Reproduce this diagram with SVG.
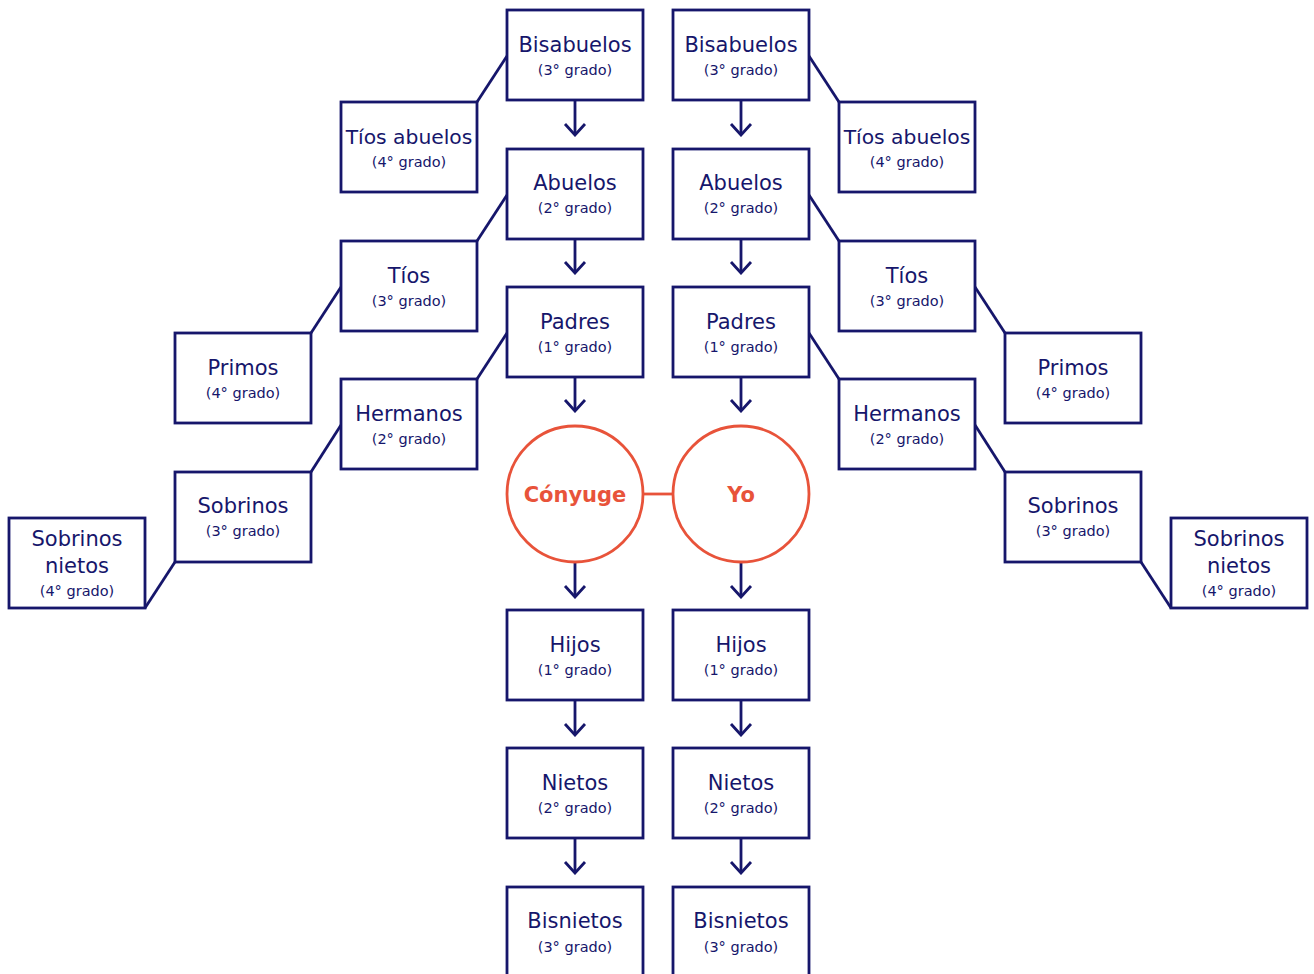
<svg xmlns="http://www.w3.org/2000/svg" width="1314" height="974" viewBox="0 0 1314 974">
<style>
.box{fill:#fff;stroke:#16166b;stroke-width:2.8}
.t{font-family:"DejaVu Sans",sans-serif;font-size:21px;fill:#16166b;text-anchor:middle}
.t2{font-size:20.3px}
.s{font-family:"DejaVu Sans",sans-serif;font-size:14.5px;fill:#16166b;text-anchor:middle}
.c{fill:#fff;stroke:#e8533a;stroke-width:2.8}
.ct{font-family:"DejaVu Sans",sans-serif;font-size:21px;font-weight:bold;fill:#e8533a;text-anchor:middle}
.ln{fill:none;stroke:#16166b;stroke-width:2.8}
.ar{fill:none;stroke:#16166b;stroke-width:2.8;marker-end:url(#chev)}
</style>
<defs>
<marker id="chev" viewBox="0 0 14 24" refX="12.5" refY="12" markerWidth="14" markerHeight="24" markerUnits="userSpaceOnUse" orient="auto">
<path d="M1.5,2 L12.5,12 L1.5,22" fill="none" stroke="#16166b" stroke-width="2.8"/>
</marker>
</defs>
<rect width="1314" height="974" fill="#fff"/>
<g id="connectors">
<line class="ln" x1="507" y1="56" x2="477" y2="102"/>
<line class="ln" x1="507" y1="195" x2="477" y2="241"/>
<line class="ln" x1="507" y1="333" x2="477" y2="379"/>
<line class="ln" x1="341" y1="287" x2="311" y2="333"/>
<line class="ln" x1="341" y1="425" x2="311" y2="472"/>
<line class="ln" x1="175" y1="562" x2="145" y2="608"/>
<line class="ln" x1="809" y1="56" x2="839" y2="102"/>
<line class="ln" x1="809" y1="195" x2="839" y2="241"/>
<line class="ln" x1="809" y1="333" x2="839" y2="379"/>
<line class="ln" x1="975" y1="287" x2="1005" y2="333"/>
<line class="ln" x1="975" y1="425" x2="1005" y2="472"/>
<line class="ln" x1="1141" y1="562" x2="1171" y2="608"/>
<line x1="643" y1="494" x2="673" y2="494" stroke="#e8533a" stroke-width="2.8"/>
<path class="ar" d="M575,100 V135"/><path class="ar" d="M741,100 V135"/>
<path class="ar" d="M575,239 V273"/><path class="ar" d="M741,239 V273"/>
<path class="ar" d="M575,377 V411"/><path class="ar" d="M741,377 V411"/>
<path class="ar" d="M575,562 V597"/><path class="ar" d="M741,562 V597"/>
<path class="ar" d="M575,700 V735"/><path class="ar" d="M741,700 V735"/>
<path class="ar" d="M575,838 V873"/><path class="ar" d="M741,838 V873"/>
</g>
<g id="bisabuelos-l"><rect class="box" x="507" y="10" width="136" height="90"/><text class="t" x="575" y="52">Bisabuelos</text><text class="s" x="575" y="75">(3° grado)</text></g>
<g id="bisabuelos-r"><rect class="box" x="673" y="10" width="136" height="90"/><text class="t" x="741" y="52">Bisabuelos</text><text class="s" x="741" y="75">(3° grado)</text></g>
<g id="abuelos-l"><rect class="box" x="507" y="149" width="136" height="90"/><text class="t" x="575" y="190">Abuelos</text><text class="s" x="575" y="213">(2° grado)</text></g>
<g id="abuelos-r"><rect class="box" x="673" y="149" width="136" height="90"/><text class="t" x="741" y="190">Abuelos</text><text class="s" x="741" y="213">(2° grado)</text></g>
<g id="padres-l"><rect class="box" x="507" y="287" width="136" height="90"/><text class="t" x="575" y="329">Padres</text><text class="s" x="575" y="352">(1° grado)</text></g>
<g id="padres-r"><rect class="box" x="673" y="287" width="136" height="90"/><text class="t" x="741" y="329">Padres</text><text class="s" x="741" y="352">(1° grado)</text></g>
<g id="conyuge"><circle class="c" cx="575" cy="494" r="68"/><text class="ct" x="575" y="502">Cónyuge</text></g>
<g id="yo"><circle class="c" cx="741" cy="494" r="68"/><text class="ct" x="741" y="502">Yo</text></g>
<g id="hijos-l"><rect class="box" x="507" y="610" width="136" height="90"/><text class="t" x="575" y="652">Hijos</text><text class="s" x="575" y="675">(1° grado)</text></g>
<g id="hijos-r"><rect class="box" x="673" y="610" width="136" height="90"/><text class="t" x="741" y="652">Hijos</text><text class="s" x="741" y="675">(1° grado)</text></g>
<g id="nietos-l"><rect class="box" x="507" y="748" width="136" height="90"/><text class="t" x="575" y="790">Nietos</text><text class="s" x="575" y="813">(2° grado)</text></g>
<g id="nietos-r"><rect class="box" x="673" y="748" width="136" height="90"/><text class="t" x="741" y="790">Nietos</text><text class="s" x="741" y="813">(2° grado)</text></g>
<g id="bisnietos-l"><rect class="box" x="507" y="887" width="136" height="100"/><text class="t" x="575" y="928">Bisnietos</text><text class="s" x="575" y="952">(3° grado)</text></g>
<g id="bisnietos-r"><rect class="box" x="673" y="887" width="136" height="100"/><text class="t" x="741" y="928">Bisnietos</text><text class="s" x="741" y="952">(3° grado)</text></g>
<g id="tiosabuelos-l"><rect class="box" x="341" y="102" width="136" height="90"/><text class="t t2" x="409" y="144">Tíos abuelos</text><text class="s" x="409" y="167">(4° grado)</text></g>
<g id="tiosabuelos-r"><rect class="box" x="839" y="102" width="136" height="90"/><text class="t t2" x="907" y="144">Tíos abuelos</text><text class="s" x="907" y="167">(4° grado)</text></g>
<g id="tios-l"><rect class="box" x="341" y="241" width="136" height="90"/><text class="t" x="409" y="283">Tíos</text><text class="s" x="409" y="306">(3° grado)</text></g>
<g id="tios-r"><rect class="box" x="839" y="241" width="136" height="90"/><text class="t" x="907" y="283">Tíos</text><text class="s" x="907" y="306">(3° grado)</text></g>
<g id="hermanos-l"><rect class="box" x="341" y="379" width="136" height="90"/><text class="t" x="409" y="421">Hermanos</text><text class="s" x="409" y="444">(2° grado)</text></g>
<g id="hermanos-r"><rect class="box" x="839" y="379" width="136" height="90"/><text class="t" x="907" y="421">Hermanos</text><text class="s" x="907" y="444">(2° grado)</text></g>
<g id="primos-l"><rect class="box" x="175" y="333" width="136" height="90"/><text class="t" x="243" y="375">Primos</text><text class="s" x="243" y="398">(4° grado)</text></g>
<g id="primos-r"><rect class="box" x="1005" y="333" width="136" height="90"/><text class="t" x="1073" y="375">Primos</text><text class="s" x="1073" y="398">(4° grado)</text></g>
<g id="sobrinos-l"><rect class="box" x="175" y="472" width="136" height="90"/><text class="t" x="243" y="513">Sobrinos</text><text class="s" x="243" y="536">(3° grado)</text></g>
<g id="sobrinos-r"><rect class="box" x="1005" y="472" width="136" height="90"/><text class="t" x="1073" y="513">Sobrinos</text><text class="s" x="1073" y="536">(3° grado)</text></g>
<g id="sobrinosnietos-l"><rect class="box" x="9" y="518" width="136" height="90"/><text class="t" x="77" y="546">Sobrinos</text><text class="t" x="77" y="573">nietos</text><text class="s" x="77" y="596">(4° grado)</text></g>
<g id="sobrinosnietos-r"><rect class="box" x="1171" y="518" width="136" height="90"/><text class="t" x="1239" y="546">Sobrinos</text><text class="t" x="1239" y="573">nietos</text><text class="s" x="1239" y="596">(4° grado)</text></g>
</svg>
